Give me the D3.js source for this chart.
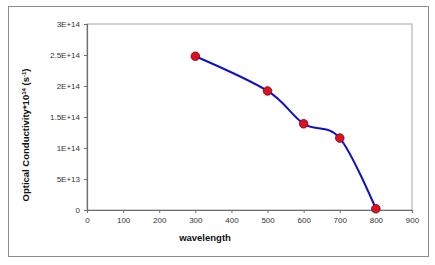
<!DOCTYPE html>
<html>
<head>
<meta charset="utf-8">
<script src="https://cdn.jsdelivr.net/npm/d3@7"></script>
<style>
  html, body { margin: 0; padding: 0; background: #fff; }
  svg { display: block; font-family: Arial, "Liberation Sans", sans-serif; }
</style>
</head>
<body>
<div id="chart"></div>
<script>
// Data
const wavelength = [300, 500, 600, 700, 800];
const conductivity = [2.48e14, 1.92e14, 1.39e14, 1.16e14, 2e12];
const xTicks = [0, 100, 200, 300, 400, 500, 600, 700, 800, 900];
const yTicks = [0, 5e13, 1e14, 1.5e14, 2e14, 2.5e14, 3e14];
const yTickLabels = ["0", "5E+13", "1E+14", "1.5E+14", "2E+14", "2.5E+14", "3E+14"];

const width = 435, height = 265;
const plot = { left: 87, right: 412, top: 24, bottom: 210 };

const svg = d3.select("#chart").append("svg")
    .attr("width", width)
    .attr("height", height);

// Outer chart frame
svg.append("rect")
    .attr("x", 8.5).attr("y", 6.5)
    .attr("width", 420).attr("height", 250)
    .attr("fill", "#fff")
    .attr("stroke", "#8c8c8c")
    .attr("stroke-width", 1);

const x = d3.scaleLinear().domain([0, 900]).range([plot.left, plot.right]);
const y = d3.scaleLinear().domain([0, 3e14]).range([plot.bottom, plot.top]);

// Plot area border (top / right)
svg.append("rect")
    .attr("x", plot.left).attr("y", plot.top)
    .attr("width", plot.right - plot.left).attr("height", plot.bottom - plot.top)
    .attr("fill", "none")
    .attr("stroke", "#a6a6a6")
    .attr("stroke-width", 1);

// Axes
const xAxis = svg.append("g")
    .attr("transform", `translate(0,${plot.bottom})`)
    .call(d3.axisBottom(x).tickValues(xTicks).tickSize(3).tickPadding(4).tickFormat(d3.format("d")));

const yAxis = svg.append("g")
    .attr("transform", `translate(${plot.left},0)`)
    .call(d3.axisLeft(y).tickValues(yTicks).tickSize(3).tickPadding(4)
        .tickFormat((d, i) => yTickLabels[i]));

[xAxis, yAxis].forEach(g => {
    g.select(".domain").attr("stroke", "#6e6e6e").attr("stroke-width", 1.2);
    g.selectAll(".tick line").attr("stroke", "#6e6e6e");
    g.selectAll(".tick text")
        .attr("fill", "#333")
        .attr("font-size", "8px")
        .attr("font-family", "Arial, 'Liberation Sans', sans-serif");
});

// Smoothed series line
const line = d3.line()
    .x((d, i) => x(wavelength[i]))
    .y(d => y(d))
    .curve(d3.curveCatmullRom.alpha(0));

svg.append("path")
    .datum(conductivity)
    .attr("fill", "none")
    .attr("stroke", "#1010c8")
    .attr("stroke-width", 2)
    .attr("d", line);

// Markers
svg.append("g")
    .selectAll("circle")
    .data(conductivity)
    .join("circle")
    .attr("cx", (d, i) => x(wavelength[i]))
    .attr("cy", d => y(d))
    .attr("r", 4.3)
    .attr("fill", "#e0101c")
    .attr("stroke", "#5a0a20")
    .attr("stroke-width", 0.8);

// Axis titles
svg.append("text")
    .attr("x", 205)
    .attr("y", 241)
    .attr("text-anchor", "middle")
    .attr("font-size", "9.5px")
    .attr("font-weight", "bold")
    .attr("fill", "#111")
    .text("wavelength");

const yTitle = svg.append("text")
    .attr("transform", "translate(29,135) rotate(-90)")
    .attr("text-anchor", "middle")
    .attr("font-size", "9.5px")
    .attr("font-weight", "bold")
    .attr("fill", "#111");
yTitle.append("tspan").text("Optical Conductivity*10");
yTitle.append("tspan").attr("dy", -3.5).attr("font-size", "6px").text("14");
yTitle.append("tspan").attr("dy", 3.5).text(" (s");
yTitle.append("tspan").attr("dy", -3.5).attr("font-size", "6px").text("-1");
yTitle.append("tspan").attr("dy", 3.5).text(")");
</script>
</body>
</html>
